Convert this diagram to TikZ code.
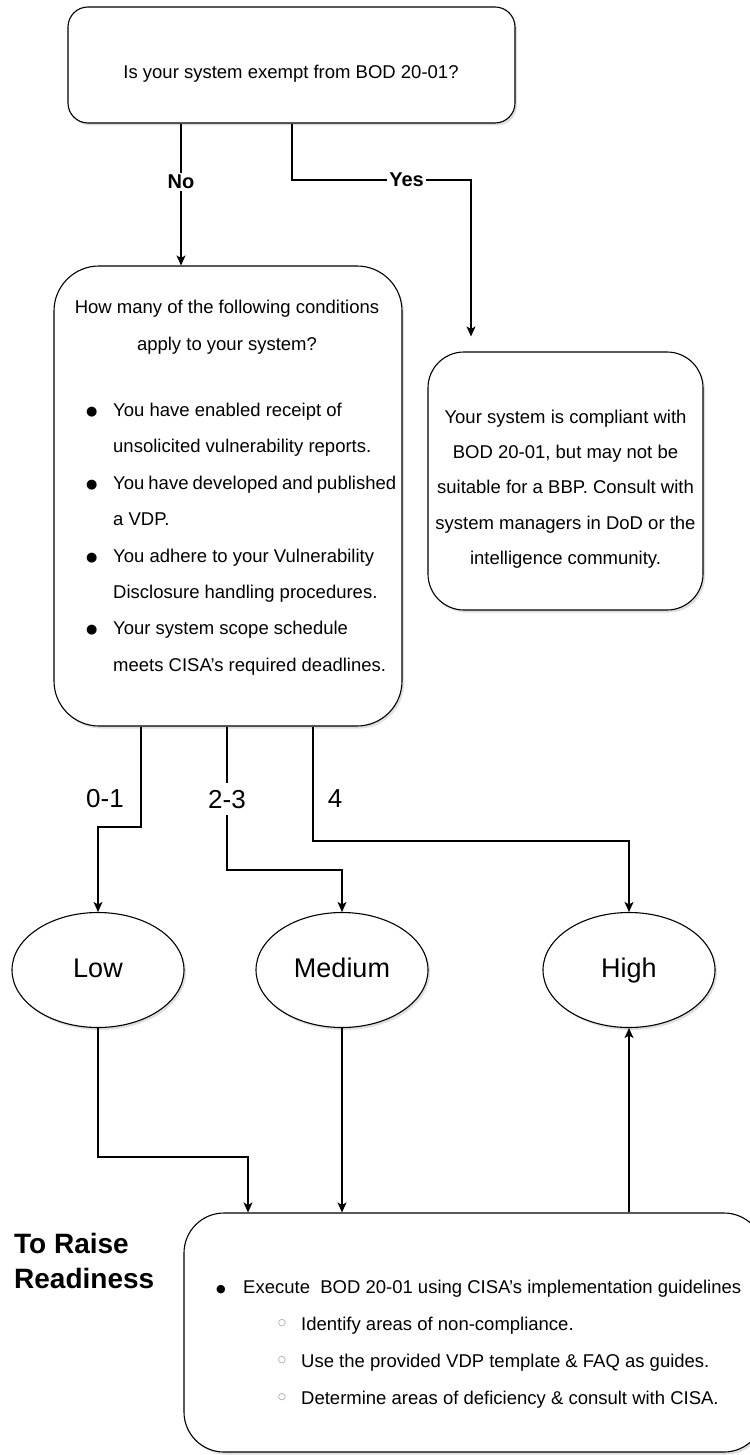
\documentclass[tikz,border=0pt]{standalone}
\usepackage{fontspec}
\setmainfont{Liberation Sans}
\newfontfamily\dejavu{DejaVu Sans}
\usetikzlibrary{shapes.geometric,arrows.meta,shadows}
\newcommand\mybul{\makebox[27pt][l]{\raisebox{1pt}{\dejavu\fontsize{13}{13}\selectfont ●}}}
\newcommand\mysmallbul{\makebox[27pt][l]{\raisebox{1.5pt}{\dejavu\fontsize{11}{11}\selectfont ●}}}
\newcommand\mysub{\makebox[23pt][l]{\raisebox{5pt}{\dejavu\fontsize{9}{9}\selectfont\color{gray}○}}}
\begin{document}
\begin{tikzpicture}[x=1pt,y=-1pt,
  box/.style={draw=black, line width=1.1pt, fill=white, rounded corners=#1,
    drop shadow={shadow xshift=2pt, shadow yshift=-2.5pt, opacity=0.25}},
  oval/.style={ellipse, draw=black, line width=1.1pt, fill=white,
    minimum width=172pt, minimum height=115pt, inner sep=0pt,
    text height=19pt, text depth=5pt,
    font=\fontsize{27}{27}\selectfont,
    drop shadow={shadow xshift=2pt, shadow yshift=-2.5pt, opacity=0.25}},
  conn/.style={line width=1.1pt},
  arr/.style={line width=1.1pt, -{Stealth[length=10pt,width=9pt,inset=2.5pt]}},
  txt/.style={inner sep=0pt, font=\fontsize{18.5}{36.4}\selectfont},
  lbl/.style={fill=white, inner sep=2pt, font=\bfseries\fontsize{20}{20}\selectfont},
  numlbl/.style={inner sep=1pt, font=\fontsize{26}{26}\selectfont}]
\useasboundingbox (0,0) rectangle (749,1455);

% boxes
\node[box=20pt, minimum width=447pt, minimum height=116pt] (q1) at (291.5,65) {};
\node[box=45pt, minimum width=348pt, minimum height=460pt] (q2) at (228,496) {};
\node[box=36pt, minimum width=275pt, minimum height=258pt] (ybox) at (565.5,481) {};
\node[oval] (low) at (98,970) {Low};
\node[oval] (med) at (342,970) {Medium};
\node[oval] (high) at (629,970) {High};
\node[box=40pt, minimum width=580pt, minimum height=239pt] (bot) at (474,1332.5) {};

% texts
\node[txt, anchor=base] (q1t) at (291,78.5) {Is your system exempt from BOD 20-01?};
\node[txt, anchor=base] (q2h1) at (227,313.5) {How many of the following conditions};
\node[txt, anchor=base] (q2h2) at (227,350) {apply to your system?};
\node[txt, anchor=base west] (q2l) at (86,416.5) {\parbox[t]{310pt}{\fontsize{18.5}{36.4}\selectfont
\mybul You have enabled receipt of\\
\hspace*{27pt}unsolicited vulnerability reports.\\
\mybul You have developed and published\\
\hspace*{27pt}a VDP.\\
\mybul You adhere to your Vulnerability\\
\hspace*{27pt}Disclosure handling procedures.\\
\mybul Your system scope schedule\\
\hspace*{27pt}meets CISA’s required deadlines.}};
\node[txt, anchor=base] (yt) at (565.5,423.5) {\parbox[t]{280pt}{\centering\fontsize{18.5}{35.2}\selectfont
Your system is compliant with\hspace*{6pt}\\
BOD 20-01, but may not be\\
suitable for a BBP. Consult with\\
system managers in DoD or the\\
intelligence community.}};
\node[anchor=base west, inner sep=0pt, font=\bfseries\fontsize{28}{35}\selectfont] (raise) at (14,1253)
  {\parbox[t]{160pt}{\fontsize{28}{35}\selectfont To Raise\\Readiness}};
\node[txt, anchor=base west] (bt) at (216,1293.5) {\parbox[t]{560pt}{\fontsize{18.5}{37}\selectfont
\mysmallbul Execute\ \ BOD 20-01 using CISA’s implementation guidelines\\
\hspace*{62pt}\mysub Identify areas of non-compliance.\\
\hspace*{62pt}\mysub Use the provided VDP template \& FAQ as guides.\\
\hspace*{62pt}\mysub Determine areas of deficiency \& consult with CISA.}};

% helper coordinates
\coordinate (xNo) at (181,0);
\coordinate (xYes) at (292,0);
\coordinate (xYesE) at (471,0);
\coordinate (yYes) at (0,180);
\coordinate (x01) at (141,0);
\coordinate (x23) at (227,0);
\coordinate (x4) at (313,0);
\coordinate (y01) at (0,827);
\coordinate (y23) at (0,870);
\coordinate (y4) at (0,841);
\coordinate (yLB) at (0,1157);
\coordinate (xLB) at (248,0);

% connectors
\draw[arr] (q1.south -| xNo) -- node[lbl, pos=0.41] (nolbl) {No} (q2.north -| xNo);
\draw[arr, shorten >=15pt] (q1.south -| xYes) -- (xYes |- yYes)
  -- node[lbl, pos=0.64] (yeslbl) {Yes} (xYesE |- yYes) -- (ybox.north -| xYesE);
\draw[arr] (q2.south -| x01) -- (x01 |- y01) -| (low.north);
\draw[arr] (q2.south -| x23) -- node[numlbl, fill=white, inner ysep=7pt, pos=0.507] (l23) {2-3} (x23 |- y23) -| (med.north);
\draw[arr] (q2.south -| x4) -- (x4 |- y4) -| (high.north);
\node[numlbl] (l01) at (105,799) {0-1};
\node[numlbl] (l4) at (335,799) {4};
\draw[arr] (low.south) -- (low.south |- yLB) -| (bot.north -| xLB);
\draw[arr] (med.south) -- (bot.north -| med.south);
\draw[arr] (bot.north -| high.south) -- (high.south);
\end{tikzpicture}
\end{document}
